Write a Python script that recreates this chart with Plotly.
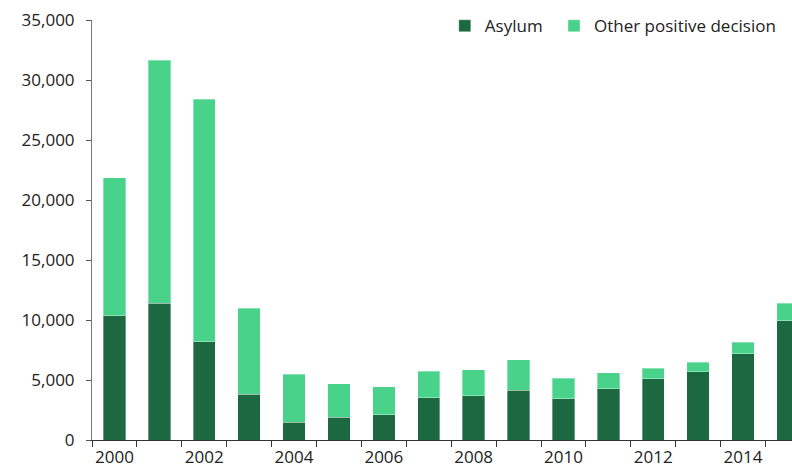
import plotly.graph_objects as go

years = list(range(2000, 2016))
asylum = [10350, 11400, 8200, 3800, 1500, 1900, 2100, 3530, 3700, 4150, 3450, 4280, 5100, 5700, 7200, 9950]
total = [21850, 31650, 28400, 11000, 5500, 4670, 4420, 5720, 5860, 6700, 5150, 5600, 6000, 6500, 8140, 11400]
other = [t - a for t, a in zip(total, asylum)]

dark = "#1c6840"
light = "#49d38a"
font_family = "Open Sans, Noto Sans, sans-serif"

fig = go.Figure()
fig.add_trace(go.Bar(x=years, y=asylum, name="Asylum", marker_color=dark,
                     marker_line=dict(color="rgba(255,255,255,0.35)", width=1), width=0.5,
                     legend="legend"))
fig.add_trace(go.Bar(x=years, y=other, name="Other positive decision", marker_color=light,
                     marker_line=dict(color="rgba(255,255,255,0.35)", width=1), width=0.5,
                     legend="legend2"))

leg_common = dict(orientation="h", xanchor="left", y=1.028, yanchor="top",
                  font=dict(size=17, color="#222222"), itemwidth=30,
                  bgcolor="rgba(0,0,0,0)")

fig.update_layout(
    barmode="stack",
    width=792, height=469,
    margin=dict(l=92, r=0, t=20, b=29, autoexpand=False),
    paper_bgcolor="white", plot_bgcolor="white",
    font=dict(family=font_family, size=17, color="#222222"),
    showlegend=True,
    legend=dict(x=0.504, **leg_common),
    legend2=dict(x=0.66, **leg_common),
    xaxis=dict(range=[1999.5, 2015.09], tickmode="linear", tick0=2000, dtick=2,
               ticks="", showgrid=False, zeroline=False, automargin=False,
               showline=True, linecolor="#333333", linewidth=1,
               minor=dict(tick0=1999.5, dtick=1, ticks="outside", ticklen=6,
                          tickcolor="#333333", showgrid=False),
               ticklabelstandoff=2, tickfont=dict(size=17)),
    yaxis=dict(range=[0, 35000], tickmode="linear", tick0=0, dtick=5000,
               tickformat=",d", ticks="outside", ticklen=5, tickcolor="#555555",
               showgrid=False, zeroline=False, showline=True, automargin=False,
               linecolor="#777777", linewidth=1, ticklabelstandoff=8,
               tickfont=dict(size=17)),
)

fig.write_html("out.html", config={"displayModeBar": False},
               post_script="document.body.style.margin='0';document.body.style.overflow='hidden';")
